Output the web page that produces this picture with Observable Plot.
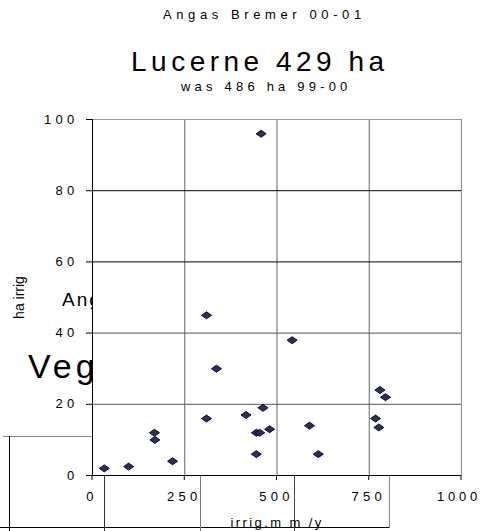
<!DOCTYPE html>
<html><head><meta charset="utf-8">
<script src="https://cdn.jsdelivr.net/npm/d3@7"></script>
<script src="https://cdn.jsdelivr.net/npm/@observablehq/plot@0.6"></script>
<style>
body{margin:0;background:#fff;}
#wrap{position:relative;width:482px;height:531px;overflow:hidden;font-family:"Liberation Sans",Arial,sans-serif;color:#000;background:#fff;}
.t{position:absolute;white-space:nowrap;line-height:1;}
.ln{position:absolute;}
#chart{position:absolute;left:0;top:0;}
g[aria-label="x-axis tick label"] text, g[aria-label="y-axis tick label"] text{letter-spacing:4.3px;}
</style></head>
<body><div id="wrap">
  <!-- remnants of another chart lying behind this one -->
  <div class="t" style="left:62px;top:290px;font-size:19px;letter-spacing:2px;">Angas Bremer</div>
  <div class="t" style="left:28px;top:349px;font-size:34px;letter-spacing:4px;">Vegetables</div>
  <div class="ln" style="left:3px;top:436px;width:89px;height:1px;background:#888;"></div>
  <div class="ln" style="left:9px;top:436px;width:1px;height:95px;background:#000;"></div>
  <div class="ln" style="left:0px;top:527px;width:390px;height:1px;background:#000;"></div>
  <div class="ln" style="left:104px;top:475px;width:1px;height:56px;background:#333;"></div>
  <div class="ln" style="left:200px;top:475px;width:1px;height:56px;background:#777;"></div>
  <div class="ln" style="left:294px;top:475px;width:1px;height:56px;background:#444;"></div>
  <div class="ln" style="left:389px;top:475px;width:1px;height:53px;background:#888;"></div>
  <div id="chart"></div>
  <div class="t" style="left:163px;top:8px;font-size:13px;letter-spacing:4.6px;">Angas Bremer 00-01</div>
  <div class="t" style="left:131px;top:48px;font-size:28px;letter-spacing:4.5px;">Lucerne 429 ha</div>
  <div class="t" style="left:181px;top:80px;font-size:13px;letter-spacing:4.2px;">was 486 ha 99-00</div>
</div>
<script>
// irrigation depth (mm/y) and irrigated area (ha) per property
const irrigMm = [32, 98, 168, 169, 217, 309, 309, 336, 416, 457, 462, 444, 453, 480, 444, 541, 588, 612, 767, 776, 779, 794];
const haIrrig = [2, 2.5, 12, 10, 4, 16, 45, 30, 17, 96, 19, 12, 12, 13, 6, 38, 14, 6, 16, 13.5, 24, 22];
const xTicks = [0, 250, 500, 750, 1000];
const yTicks = [0, 20, 40, 60, 80, 100];
const vGrid = [250, 500, 750, 1000];
const hGrid = [20, 40, 60, 80, 100];
const xLabel = "irrig.m m /y";
const yLabel = "ha irrig";

const points = irrigMm.map((x, i) => ({x, y: haIrrig[i]}));

const diamond = {
  draw(ctx, size) {
    const r = Math.sqrt(size / Math.PI);
    const w = r, h = r * 0.7;
    ctx.moveTo(0, -h); ctx.lineTo(w, 0); ctx.lineTo(0, h); ctx.lineTo(-w, 0); ctx.closePath();
  }
};

const chart = Plot.plot({
  width: 482, height: 531,
  marginLeft: 92, marginRight: 21, marginTop: 119, marginBottom: 56,
  style: {background: "transparent", fontFamily: "'Liberation Sans', Arial, sans-serif", fontSize: "13px", color: "#000"},
  x: {domain: [0, 1000], label: null},
  y: {domain: [0, 100], label: null},
  marks: [
    Plot.frame({fill: "white", stroke: null}),
    Plot.ruleX(vGrid, {stroke: d => d === 1000 ? "#888" : "#666"}),
    Plot.ruleY(hGrid, {stroke: d => d === 100 ? "#999" : d >= 60 ? "#000" : "#555"}),
    Plot.ruleX([0], {stroke: "#000"}),
    Plot.ruleY([0], {stroke: "#000"}),
    Plot.axisX({ticks: xTicks, tickSize: 5, tickPadding: 11, dx: -0.5, tickFormat: d => String(d), label: null}),
    Plot.axisY({ticks: yTicks, tickSize: 6, tickPadding: 8, tickFormat: d => String(d), label: null}),
    Plot.dot(points, {x: "x", y: "y", r: 5, symbol: diamond, fill: "#333", stroke: "#000080", strokeWidth: 1}),
    Plot.text([yLabel], {frameAnchor: "left", textAnchor: "middle", dx: -73, rotate: -90, fontSize: 14}),
    Plot.text([xLabel], {frameAnchor: "bottom", textAnchor: "middle", dy: 47, lineAnchor: "middle", fontSize: 13})
  ]
});
// Excel-style spaced lettering of the x-axis title
chart.querySelectorAll("text").forEach(t => {
  if (t.textContent === xLabel) t.style.letterSpacing = "2.4px";
});
// keep the last x tick label inside the right edge
chart.querySelectorAll('g[aria-label="x-axis tick label"] text').forEach(t => {
  if (t.textContent === String(xTicks[xTicks.length - 1])) {
    t.style.letterSpacing = "3.8px";
    t.setAttribute("dx", "-2");
  }
});
document.getElementById("chart").appendChild(chart);
</script>
</body></html>
